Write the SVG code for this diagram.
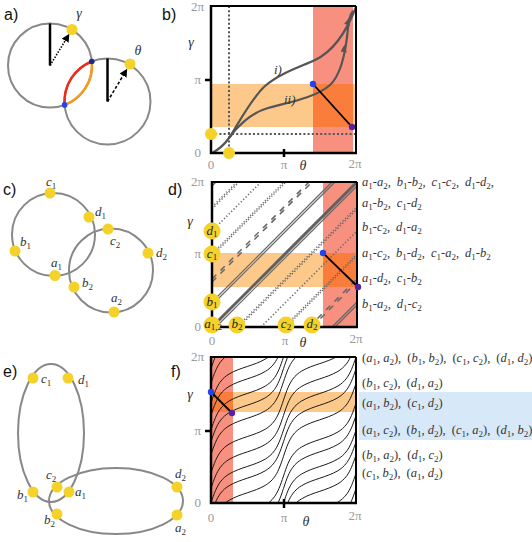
<svg xmlns="http://www.w3.org/2000/svg" width="532" height="542" viewBox="0 0 532 542">
<defs>
<style>
.circ{fill:none;stroke:#888;stroke-width:2}
.yd{fill:#f4d22a}
.lb{font-family:"Liberation Serif","DejaVu Serif",serif;font-style:italic;font-size:13px;fill:#333}
.cl{font-family:"Liberation Serif","DejaVu Serif",serif;font-style:italic;font-size:13px;fill:#222;text-anchor:middle}
.sb{font-style:normal;font-size:9px}
.i{font-style:italic}
.tk{font-family:"Liberation Serif","DejaVu Serif",serif;font-size:13px;fill:#999}
.te{text-anchor:end}
.tm{text-anchor:middle}
.var{font-family:"Liberation Serif","DejaVu Serif",serif;font-style:italic;font-size:14px;fill:#333;text-anchor:middle}
.pan{font-family:"Liberation Sans",Arial,sans-serif;font-size:16px;fill:#111}
.ax{stroke:#000;stroke-width:2.5;fill:none}
.axt{stroke:#000;stroke-width:2;fill:none}
.pr{font-family:"Liberation Serif","DejaVu Serif",serif;font-size:12.5px;fill:#333}
.red{fill:#f8907f}
.org{fill:#fcc98a}
.ovl{fill:#fa7d3c}
.l0{stroke:#606060;stroke-width:3}
.l1{stroke:#666;stroke-width:1.2}
.lt{stroke:#666;stroke-width:1.6;stroke-dasharray:1.2,2.2}
.lt2{stroke:#666;stroke-width:1.4;stroke-dasharray:1.2,1.8}
.ld{stroke:#666;stroke-width:1.5;stroke-dasharray:6,6}
.bc{stroke:#555;stroke-width:2.2;fill:none}
.dot{stroke:#555;stroke-width:2;stroke-dasharray:2,2.2;fill:none}
</style>
<marker id="ah" markerUnits="userSpaceOnUse" viewBox="0 0 10 10" refX="1" refY="5" markerWidth="8" markerHeight="8" orient="auto"><path d="M0,0L10,5L0,10z" fill="#000"/></marker>
<path id="fh" d="M0,0 C1.51,-4.56 3.02,-9.00 4.53,-12.50 C6.04,-16.00 7.55,-18.65 9.06,-20.75 C10.57,-22.85 12.08,-24.43 13.59,-25.74 C15.10,-27.06 16.62,-28.11 18.13,-29.02 C19.64,-29.93 21.15,-30.70 22.66,-31.40 C24.17,-32.10 25.68,-32.74 27.19,-33.32 C28.70,-33.90 30.21,-34.45 31.72,-34.97 C33.23,-35.50 34.74,-35.99 36.25,-36.5 C37.76,-37.01 39.27,-37.51 40.78,-38.03 C42.29,-38.56 43.80,-39.10 45.31,-39.68 C46.82,-40.26 48.33,-40.90 49.84,-41.60 C51.35,-42.30 52.87,-43.07 54.38,-43.98 C55.89,-44.89 57.40,-45.95 58.91,-47.26 C60.42,-48.58 61.93,-50.15 63.44,-52.25 C64.95,-54.35 66.46,-57.00 67.97,-60.50 C69.48,-64.00 70.99,-68.44 72.5,-73"/>
<g id="fc"><use href="#fh"/><use href="#fh" transform="translate(72.5,-73)"/></g>
<clipPath id="fclip"><rect x="211" y="357" width="145" height="146"/></clipPath>
</defs>
<rect width="532" height="542" fill="#fff"/>

<g id="panel-labels">
<text class="pan" x="4" y="20">a)</text>
<text class="pan" x="162" y="20">b)</text>
<text class="pan" x="3" y="195">c)</text>
<text class="pan" x="168" y="195">d)</text>
<text class="pan" x="3" y="377">e)</text>
<text class="pan" x="171" y="377">f)</text>
</g>

<g id="panel-a">
<circle class="circ" cx="50" cy="65.5" r="42"/>
<circle class="circ" cx="107.5" cy="101.5" r="43"/>
<path d="M91.8,61.5 A43,43 0 0 0 64.6,104.9" stroke="#ee2a1a" stroke-width="2.5" fill="none"/>
<path d="M91.8,61.5 A42,42 0 0 1 64.6,104.9" stroke="#f59a1c" stroke-width="2.5" fill="none"/>
<line x1="50" y1="65.5" x2="50" y2="23.5" stroke="#000" stroke-width="2.5"/>
<line x1="50" y1="65.5" x2="65.6" y2="40" stroke="#000" stroke-width="1.6" stroke-dasharray="1.5,1.5" marker-end="url(#ah)"/>
<line x1="107.5" y1="101.5" x2="107.5" y2="58.5" stroke="#000" stroke-width="2.5"/>
<line x1="107.5" y1="101.5" x2="123.5" y2="74.9" stroke="#000" stroke-width="1.6" stroke-dasharray="3,2" marker-end="url(#ah)"/>
<g id="a-gamma"><circle class="yd" cx="72" cy="29.5" r="5.5"/><text class="var" x="79" y="18" fill="#777">γ</text></g>
<g id="a-theta"><circle class="yd" cx="130" cy="64" r="5.5"/><text class="var" x="138" y="55" font-size="13" fill="#777">θ</text></g>
<circle cx="91.8" cy="61.5" r="2.8" fill="#1a2a8a"/>
<circle cx="64.6" cy="104.9" r="2.8" fill="#2244ee"/>
</g>

<g id="panel-b">
<rect class="red" x="313" y="6" width="40" height="147"/>
<rect class="org" x="211" y="84" width="145" height="43"/>
<rect class="ovl" x="313" y="84" width="40" height="43"/>
<line class="dot" x1="229" y1="6" x2="229" y2="153"/>
<line class="dot" x1="211" y1="134" x2="356" y2="134"/>
<path class="bc" d="M212,153 C218,150 224,145 229,138 C236,128 250,100 265,86 C280,73 300,67 315,60 C330,53 344,38 356,7"/>
<path class="bc" d="M229,138 C236,128 250,113 268,108 C290,102 315,98 330,85 C342,74 346,50 348,28 C348.5,20 350,15 353,11"/>
<polygon points="349.4,17.5 349.8,25.9 344.2,23.8" fill="#555"/>
<polygon points="344.5,44.5 346.8,52.4 340.6,51.6" fill="#555"/>
<text class="lb" x="274" y="74" fill="#666">i)</text>
<text class="lb" x="284" y="104" fill="#666">ii)</text>
<line x1="313" y1="84" x2="352" y2="127" stroke="#000" stroke-width="1.8"/>
<line class="axt" x1="211" y1="6" x2="356" y2="6"/>
<line class="axt" x1="356" y1="6" x2="356" y2="153"/>
<line class="ax" x1="211" y1="5" x2="211" y2="154"/>
<line class="ax" x1="210" y1="153" x2="357" y2="153"/>
<line class="ax" x1="205" y1="80" x2="211" y2="80"/>
<line class="ax" x1="284" y1="149" x2="284" y2="157"/>
<circle class="yd" cx="211" cy="134" r="6"/>
<circle class="yd" cx="229" cy="153" r="6"/>
<circle cx="313" cy="84" r="3.2" fill="#2244ee"/>
<circle cx="352" cy="127" r="3.2" fill="#5522aa"/>
<text class="tk te" x="204" y="11">2π</text>
<text class="var" x="191" y="47">γ</text>
<text class="tk te" x="201" y="84">π</text>
<text class="tk te" x="201" y="157">0</text>
<text class="tk tm" x="211" y="169">0</text>
<text class="tk tm" x="284" y="169">π</text>
<text class="var" x="303" y="170" font-size="13">θ</text>
<text class="tk tm" x="355" y="168">2π</text>
</g>

<g id="panel-c">
<circle class="circ" cx="53.5" cy="234.5" r="41.5"/>
<circle class="circ" cx="111" cy="270.5" r="42"/>
<g id="c-c1"><circle class="yd" cx="50" cy="193" r="5.5"/><text class="lb" x="46" y="186">c<tspan class="sb" dy="3">1</tspan></text></g>
<g id="c-d1"><circle class="yd" cx="89" cy="217" r="5.5"/><text class="lb" x="95" y="216">d<tspan class="sb" dy="3">1</tspan></text></g>
<g id="c-b1"><circle class="yd" cx="15" cy="251" r="5.5"/><text class="lb" x="20" y="246">b<tspan class="sb" dy="3">1</tspan></text></g>
<g id="c-a1"><circle class="yd" cx="55" cy="275.5" r="5.5"/><text class="lb" x="51" y="267">a<tspan class="sb" dy="3">1</tspan></text></g>
<g id="c-c2"><circle class="yd" cx="108" cy="229" r="5.5"/><text class="lb" x="110" y="245">c<tspan class="sb" dy="3">2</tspan></text></g>
<g id="c-d2"><circle class="yd" cx="148" cy="253" r="5.5"/><text class="lb" x="156" y="257">d<tspan class="sb" dy="3">2</tspan></text></g>
<g id="c-b2"><circle class="yd" cx="74" cy="287" r="5.5"/><text class="lb" x="82" y="287">b<tspan class="sb" dy="3">2</tspan></text></g>
<g id="c-a2"><circle class="yd" cx="114" cy="312" r="5.5"/><text class="lb" x="111" y="302">a<tspan class="sb" dy="3">2</tspan></text></g>
</g>

<g id="panel-d">
<rect class="red" x="323" y="182" width="34" height="145"/>
<rect class="org" x="212" y="253" width="145" height="34"/>
<rect class="ovl" x="323" y="253" width="34" height="34" fill="#fb8a3c"/>
<g id="d-lines">
<line class="l0" x1="212" y1="327" x2="357" y2="182"/>
<line class="l1" x1="216" y1="327" x2="357" y2="186"/>
<line class="l1" x1="212" y1="186" x2="216" y2="182"/>
<line class="lt" x1="212" y1="207" x2="237" y2="182"/>
<line class="lt" x1="237" y1="327" x2="357" y2="207"/>
<line class="lt" x1="212" y1="209" x2="239" y2="182"/>
<line class="lt" x1="239" y1="327" x2="357" y2="209"/>
<line class="lt" x1="212" y1="231" x2="261" y2="182"/>
<line class="lt" x1="261" y1="327" x2="357" y2="231"/>
<line class="lt2" x1="212" y1="256" x2="286" y2="182"/>
<line class="lt2" x1="286" y1="327" x2="357" y2="256"/>
<line class="lt2" x1="212" y1="254" x2="284" y2="182"/>
<line class="lt2" x1="284" y1="327" x2="357" y2="254"/>
<line class="ld" x1="212" y1="282" x2="312" y2="182"/>
<line class="ld" x1="312" y1="327" x2="357" y2="282"/>
<line class="ld" x1="212" y1="279" x2="309" y2="182"/>
<line class="ld" x1="309" y1="327" x2="357" y2="279"/>
<line class="l1" x1="212" y1="302" x2="332" y2="182"/>
<line class="l1" x1="332" y1="327" x2="357" y2="302"/>
<line class="l1" x1="212" y1="305" x2="335" y2="182"/>
<line class="l1" x1="335" y1="327" x2="357" y2="305"/>
</g>
<line x1="323" y1="253" x2="358" y2="287" stroke="#000" stroke-width="1.8"/>
<line class="axt" x1="212" y1="182" x2="357" y2="182"/>
<line class="axt" x1="357" y1="182" x2="357" y2="327"/>
<line class="ax" x1="212" y1="181" x2="212" y2="328"/>
<line class="ax" x1="211" y1="327" x2="358" y2="327"/>
<circle cx="323" cy="253" r="3.2" fill="#2244ee"/>
<circle cx="358" cy="287" r="3.2" fill="#5522aa"/>
<g id="d-d1"><circle class="yd" cx="212" cy="231" r="8.5"/><text class="cl" x="212" y="235">d<tspan class="sb" dy="2">1</tspan></text></g>
<g id="d-c1"><circle class="yd" cx="212" cy="254" r="8.5"/><text class="cl" x="212" y="258">c<tspan class="sb" dy="2">1</tspan></text></g>
<g id="d-b1"><circle class="yd" cx="212" cy="302" r="8.5"/><text class="cl" x="212" y="306">b<tspan class="sb" dy="2">1</tspan></text></g>
<g id="d-a12"><circle class="yd" cx="212" cy="325" r="8.5"/><text class="cl" x="213" y="328">a<tspan class="sb" dy="2">1,2</tspan></text></g>
<g id="d-b2"><circle class="yd" cx="237" cy="325" r="8.5"/><text class="cl" x="237" y="328">b<tspan class="sb" dy="2">2</tspan></text></g>
<g id="d-c2"><circle class="yd" cx="286" cy="325" r="8.5"/><text class="cl" x="286" y="328">c<tspan class="sb" dy="2">2</tspan></text></g>
<g id="d-d2"><circle class="yd" cx="312" cy="325" r="8.5"/><text class="cl" x="312" y="328">d<tspan class="sb" dy="2">2</tspan></text></g>
<text class="tk te" x="204" y="186">2π</text>
<text class="var" x="190" y="226">γ</text>
<text class="tk te" x="201" y="258">π</text>
<text class="tk te" x="201" y="331">0</text>
<text class="tk tm" x="212" y="345">0</text>
<text class="tk tm" x="285" y="345">π</text>
<text class="var" x="303" y="347" font-size="13">θ</text>
<text class="tk tm" x="356" y="343">2π</text>
</g>

<g id="d-pairs">
<text class="pr" x="362" y="186"><tspan class="i">a</tspan><tspan class="sb" dy="3">1</tspan><tspan dy="-3">-</tspan><tspan class="i">a</tspan><tspan class="sb" dy="3">2</tspan><tspan dy="-3">,</tspan><tspan class="i" dx="6">b</tspan><tspan class="sb" dy="3">1</tspan><tspan dy="-3">-</tspan><tspan class="i">b</tspan><tspan class="sb" dy="3">2</tspan><tspan dy="-3">,</tspan><tspan class="i" dx="6">c</tspan><tspan class="sb" dy="3">1</tspan><tspan dy="-3">-</tspan><tspan class="i">c</tspan><tspan class="sb" dy="3">2</tspan><tspan dy="-3">,</tspan><tspan class="i" dx="6">d</tspan><tspan class="sb" dy="3">1</tspan><tspan dy="-3">-</tspan><tspan class="i">d</tspan><tspan class="sb" dy="3">2</tspan><tspan dy="-3">,</tspan></text>
<text class="pr" x="362" y="207"><tspan class="i">a</tspan><tspan class="sb" dy="3">1</tspan><tspan dy="-3">-</tspan><tspan class="i">b</tspan><tspan class="sb" dy="3">2</tspan><tspan dy="-3">,</tspan><tspan class="i" dx="6">c</tspan><tspan class="sb" dy="3">1</tspan><tspan dy="-3">-</tspan><tspan class="i">d</tspan><tspan class="sb" dy="3">2</tspan></text>
<text class="pr" x="362" y="231"><tspan class="i">b</tspan><tspan class="sb" dy="3">1</tspan><tspan dy="-3">-</tspan><tspan class="i">c</tspan><tspan class="sb" dy="3">2</tspan><tspan dy="-3">,</tspan><tspan class="i" dx="6">d</tspan><tspan class="sb" dy="3">1</tspan><tspan dy="-3">-</tspan><tspan class="i">a</tspan><tspan class="sb" dy="3">2</tspan></text>
<text class="pr" x="362" y="257"><tspan class="i">a</tspan><tspan class="sb" dy="3">1</tspan><tspan dy="-3">-</tspan><tspan class="i">c</tspan><tspan class="sb" dy="3">2</tspan><tspan dy="-3">,</tspan><tspan class="i" dx="6">b</tspan><tspan class="sb" dy="3">1</tspan><tspan dy="-3">-</tspan><tspan class="i">d</tspan><tspan class="sb" dy="3">2</tspan><tspan dy="-3">,</tspan><tspan class="i" dx="6">c</tspan><tspan class="sb" dy="3">1</tspan><tspan dy="-3">-</tspan><tspan class="i">a</tspan><tspan class="sb" dy="3">2</tspan><tspan dy="-3">,</tspan><tspan class="i" dx="6">d</tspan><tspan class="sb" dy="3">1</tspan><tspan dy="-3">-</tspan><tspan class="i">b</tspan><tspan class="sb" dy="3">2</tspan></text>
<text class="pr" x="362" y="282"><tspan class="i">a</tspan><tspan class="sb" dy="3">1</tspan><tspan dy="-3">-</tspan><tspan class="i">d</tspan><tspan class="sb" dy="3">2</tspan><tspan dy="-3">,</tspan><tspan class="i" dx="6">c</tspan><tspan class="sb" dy="3">1</tspan><tspan dy="-3">-</tspan><tspan class="i">b</tspan><tspan class="sb" dy="3">2</tspan></text>
<text class="pr" x="362" y="308"><tspan class="i">b</tspan><tspan class="sb" dy="3">1</tspan><tspan dy="-3">-</tspan><tspan class="i">a</tspan><tspan class="sb" dy="3">2</tspan><tspan dy="-3">,</tspan><tspan class="i" dx="6">d</tspan><tspan class="sb" dy="3">1</tspan><tspan dy="-3">-</tspan><tspan class="i">c</tspan><tspan class="sb" dy="3">2</tspan></text>
</g>

<g id="panel-e">
<ellipse class="circ" cx="51" cy="433" rx="33" ry="69"/>
<ellipse class="circ" cx="116" cy="501" rx="67" ry="33"/>
<g id="e-c1"><circle class="yd" cx="33" cy="378" r="5.5"/><text class="lb" x="41" y="383">c<tspan class="sb" dy="3">1</tspan></text></g>
<g id="e-d1"><circle class="yd" cx="68" cy="378" r="5.5"/><text class="lb" x="78" y="384">d<tspan class="sb" dy="3">1</tspan></text></g>
<g id="e-c2"><circle class="yd" cx="57" cy="487" r="5.5"/><text class="lb" x="46" y="479">c<tspan class="sb" dy="3">2</tspan></text></g>
<g id="e-b1"><circle class="yd" cx="33" cy="492" r="5.5"/><text class="lb" x="17" y="499">b<tspan class="sb" dy="3">1</tspan></text></g>
<g id="e-a1"><circle class="yd" cx="69" cy="492" r="5.5"/><text class="lb" x="75" y="496">a<tspan class="sb" dy="3">1</tspan></text></g>
<g id="e-b2"><circle class="yd" cx="57" cy="514" r="5.5"/><text class="lb" x="44" y="524">b<tspan class="sb" dy="3">2</tspan></text></g>
<g id="e-d2"><circle class="yd" cx="177" cy="487" r="5.5"/><text class="lb" x="175" y="478">d<tspan class="sb" dy="3">2</tspan></text></g>
<g id="e-a2"><circle class="yd" cx="177" cy="515" r="5.5"/><text class="lb" x="175" y="532">a<tspan class="sb" dy="3">2</tspan></text></g>
</g>

<g id="panel-f">
<rect x="359" y="392" width="173" height="48" fill="#d7e8f8"/>
<rect class="red" x="211" y="357" width="22" height="146"/>
<rect class="org" x="211" y="392" width="145" height="20"/>
<rect class="ovl" x="211" y="392" width="22" height="20"/>
<g id="f-curves" clip-path="url(#fclip)" fill="none" stroke="#1a1a1a" stroke-width="1">
<use href="#fc" transform="translate(211,503)"/>
<use href="#fc" transform="translate(211,488.4)"/>
<use href="#fc" transform="translate(211,634.4)"/>
<use href="#fc" transform="translate(211,473.1)"/>
<use href="#fc" transform="translate(211,619.1)"/>
<use href="#fc" transform="translate(211,454.8)"/>
<use href="#fc" transform="translate(211,600.8)"/>
<use href="#fc" transform="translate(211,441.7)"/>
<use href="#fc" transform="translate(211,587.7)"/>
<use href="#fc" transform="translate(211,430)"/>
<use href="#fc" transform="translate(211,576)"/>
<use href="#fc" transform="translate(211,415.4)"/>
<use href="#fc" transform="translate(211,561.4)"/>
<use href="#fc" transform="translate(211,403)"/>
<use href="#fc" transform="translate(211,549)"/>
<use href="#fc" transform="translate(211,383.3)"/>
<use href="#fc" transform="translate(211,529.3)"/>
<use href="#fc" transform="translate(211,368.7)"/>
<use href="#fc" transform="translate(211,514.7)"/>
</g>
<line x1="211" y1="392" x2="232" y2="413" stroke="#000" stroke-width="1.8"/>
<line class="axt" x1="211" y1="357" x2="356" y2="357"/>
<line class="axt" x1="356" y1="357" x2="356" y2="503"/>
<line class="ax" x1="211" y1="356" x2="211" y2="504"/>
<line class="ax" x1="210" y1="503" x2="357" y2="503"/>
<line class="ax" x1="205" y1="431" x2="211" y2="431"/>
<line class="ax" x1="284" y1="499" x2="284" y2="508"/>
<circle cx="211" cy="392" r="3.2" fill="#2244ee"/>
<circle cx="232" cy="413" r="3.2" fill="#5522aa"/>
<text class="tk te" x="204" y="361">2π</text>
<text class="var" x="190" y="399">γ</text>
<text class="tk te" x="201" y="435">π</text>
<text class="tk te" x="201" y="507">0</text>
<text class="tk tm" x="211" y="522">0</text>
<text class="tk tm" x="284" y="522">π</text>
<text class="var" x="306" y="526" font-size="13">θ</text>
<text class="tk tm" x="355" y="520">2π</text>
</g>

<g id="f-pairs">
<text class="pr" x="362" y="362"><tspan>(</tspan><tspan class="i">a</tspan><tspan class="sb" dy="3">1</tspan><tspan dy="-3">, </tspan><tspan class="i">a</tspan><tspan class="sb" dy="3">2</tspan><tspan dy="-3">),</tspan><tspan dx="6">(</tspan><tspan class="i">b</tspan><tspan class="sb" dy="3">1</tspan><tspan dy="-3">, </tspan><tspan class="i">b</tspan><tspan class="sb" dy="3">2</tspan><tspan dy="-3">),</tspan><tspan dx="6">(</tspan><tspan class="i">c</tspan><tspan class="sb" dy="3">1</tspan><tspan dy="-3">, </tspan><tspan class="i">c</tspan><tspan class="sb" dy="3">2</tspan><tspan dy="-3">),</tspan><tspan dx="6">(</tspan><tspan class="i">d</tspan><tspan class="sb" dy="3">1</tspan><tspan dy="-3">, </tspan><tspan class="i">d</tspan><tspan class="sb" dy="3">2</tspan><tspan dy="-3">)</tspan></text>
<text class="pr" x="362" y="387"><tspan>(</tspan><tspan class="i">b</tspan><tspan class="sb" dy="3">1</tspan><tspan dy="-3">, </tspan><tspan class="i">c</tspan><tspan class="sb" dy="3">2</tspan><tspan dy="-3">),</tspan><tspan dx="6">(</tspan><tspan class="i">d</tspan><tspan class="sb" dy="3">1</tspan><tspan dy="-3">, </tspan><tspan class="i">a</tspan><tspan class="sb" dy="3">2</tspan><tspan dy="-3">)</tspan></text>
<text class="pr" x="362" y="407"><tspan>(</tspan><tspan class="i">a</tspan><tspan class="sb" dy="3">1</tspan><tspan dy="-3">, </tspan><tspan class="i">b</tspan><tspan class="sb" dy="3">2</tspan><tspan dy="-3">),</tspan><tspan dx="6">(</tspan><tspan class="i">c</tspan><tspan class="sb" dy="3">1</tspan><tspan dy="-3">, </tspan><tspan class="i">d</tspan><tspan class="sb" dy="3">2</tspan><tspan dy="-3">)</tspan></text>
<text class="pr" x="362" y="434"><tspan>(</tspan><tspan class="i">a</tspan><tspan class="sb" dy="3">1</tspan><tspan dy="-3">, </tspan><tspan class="i">c</tspan><tspan class="sb" dy="3">2</tspan><tspan dy="-3">),</tspan><tspan dx="6">(</tspan><tspan class="i">b</tspan><tspan class="sb" dy="3">1</tspan><tspan dy="-3">, </tspan><tspan class="i">d</tspan><tspan class="sb" dy="3">2</tspan><tspan dy="-3">),</tspan><tspan dx="6">(</tspan><tspan class="i">c</tspan><tspan class="sb" dy="3">1</tspan><tspan dy="-3">, </tspan><tspan class="i">a</tspan><tspan class="sb" dy="3">2</tspan><tspan dy="-3">),</tspan><tspan dx="6">(</tspan><tspan class="i">d</tspan><tspan class="sb" dy="3">1</tspan><tspan dy="-3">, </tspan><tspan class="i">b</tspan><tspan class="sb" dy="3">2</tspan><tspan dy="-3">)</tspan></text>
<text class="pr" x="362" y="459"><tspan>(</tspan><tspan class="i">b</tspan><tspan class="sb" dy="3">1</tspan><tspan dy="-3">, </tspan><tspan class="i">a</tspan><tspan class="sb" dy="3">2</tspan><tspan dy="-3">),</tspan><tspan dx="6">(</tspan><tspan class="i">d</tspan><tspan class="sb" dy="3">1</tspan><tspan dy="-3">, </tspan><tspan class="i">c</tspan><tspan class="sb" dy="3">2</tspan><tspan dy="-3">)</tspan></text>
<text class="pr" x="362" y="477"><tspan>(</tspan><tspan class="i">c</tspan><tspan class="sb" dy="3">1</tspan><tspan dy="-3">, </tspan><tspan class="i">b</tspan><tspan class="sb" dy="3">2</tspan><tspan dy="-3">),</tspan><tspan dx="6">(</tspan><tspan class="i">a</tspan><tspan class="sb" dy="3">1</tspan><tspan dy="-3">, </tspan><tspan class="i">d</tspan><tspan class="sb" dy="3">2</tspan><tspan dy="-3">)</tspan></text>
</g>
</svg>
